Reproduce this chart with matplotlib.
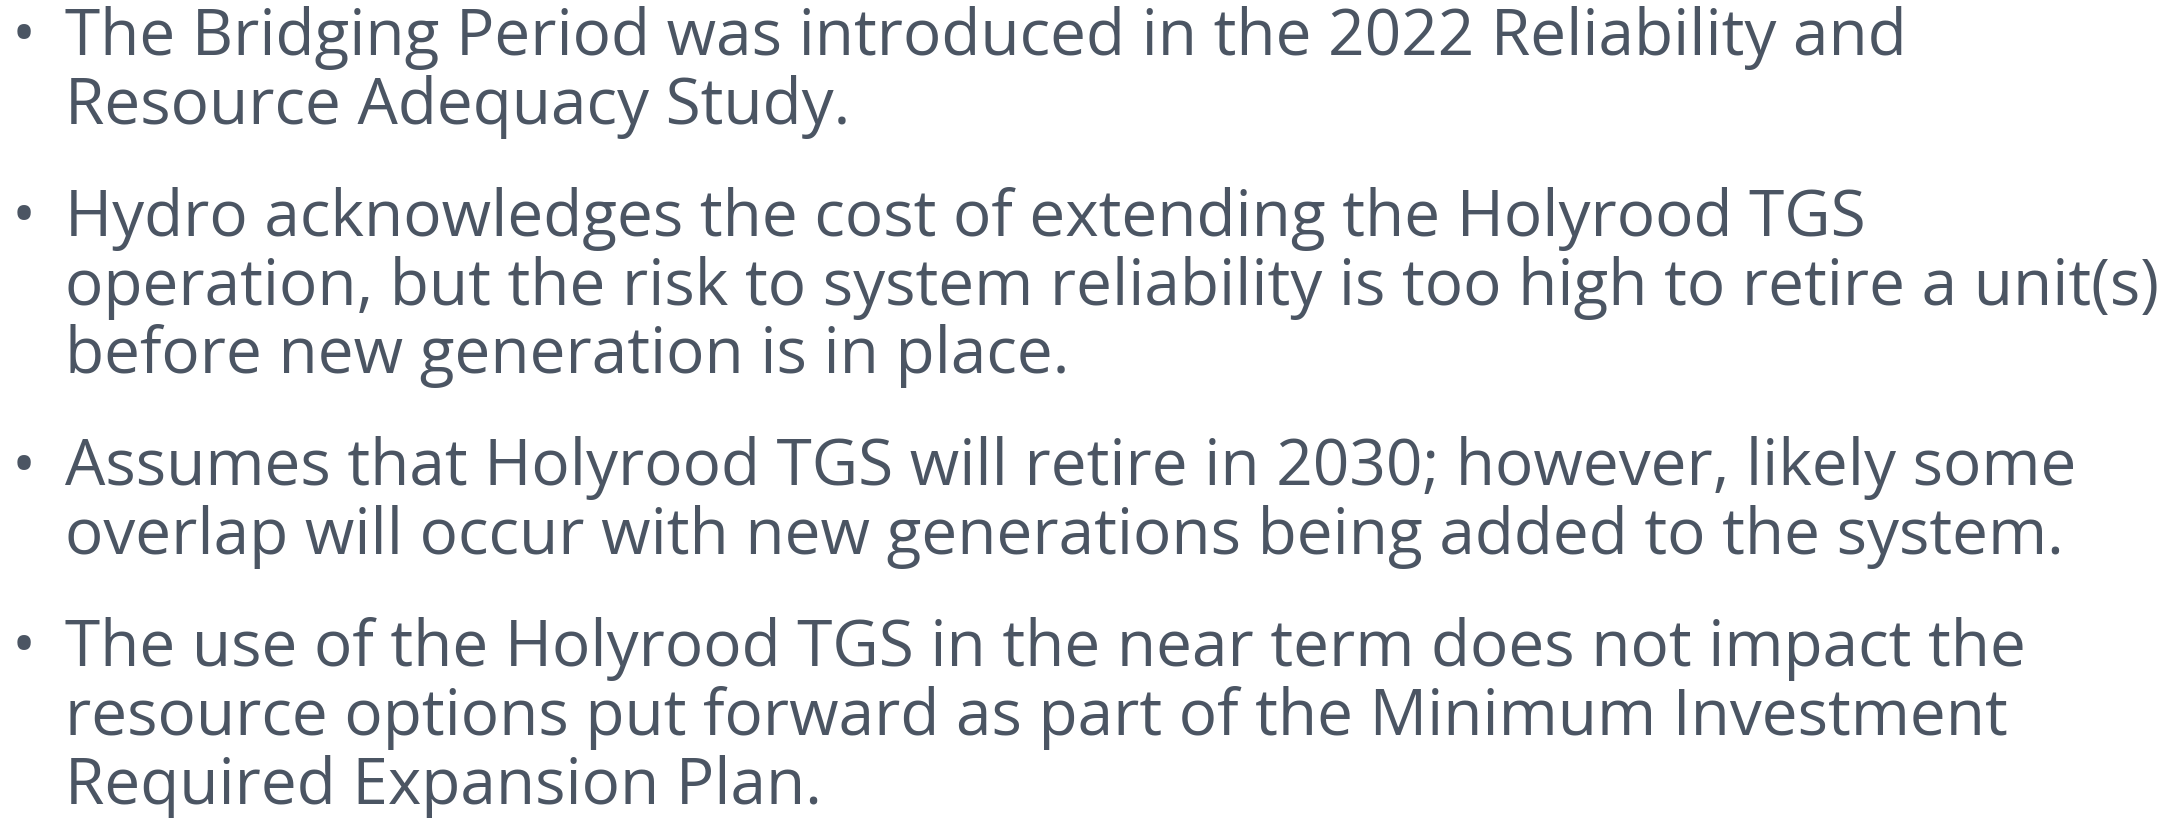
import matplotlib
matplotlib.use("Agg")
import matplotlib.pyplot as plt

# bullet text, one list of wrapped lines per bullet
bullet_1 = ["The Bridging Period was introduced in the 2022 Reliability and",
            "Resource Adequacy Study."]
bullet_2 = ["Hydro acknowledges the cost of extending the Holyrood TGS",
            "operation, but the risk to system reliability is too high to retire a unit(s)",
            "before new generation is in place."]
bullet_3 = ["Assumes that Holyrood TGS will retire in 2030; however, likely some",
            "overlap will occur with new generations being added to the system."]
bullet_4 = ["The use of the Holyrood TGS in the near term does not impact the",
            "resource options put forward as part of the Minimum Investment",
            "Required Expansion Plan."]
bullets = [bullet_1, bullet_2, bullet_3, bullet_4]

W, H = 2181, 818
TEXT_COLOR = "#4b5563"
FONT = "Open Sans"

fig = plt.figure(figsize=(W / 100, H / 100), dpi=100)
ax = fig.add_axes([0, 0, 1, 1])
ax.set_xlim(0, W)
ax.set_ylim(H, 0)
ax.axis("off")

y = 55
line_step = 68.7
para_gap = 43.5
for lines in bullets:
    ax.text(12, y, "\u2022", fontsize=46, color=TEXT_COLOR, family=FONT,
            va="baseline", ha="left")
    for i, line in enumerate(lines):
        ax.text(65, y, line, fontsize=46, color=TEXT_COLOR, family=FONT,
                va="baseline", ha="left")
        if i < len(lines) - 1:
            y += line_step
    y += line_step + para_gap

fig.savefig("out.png", dpi=100, facecolor="white")
